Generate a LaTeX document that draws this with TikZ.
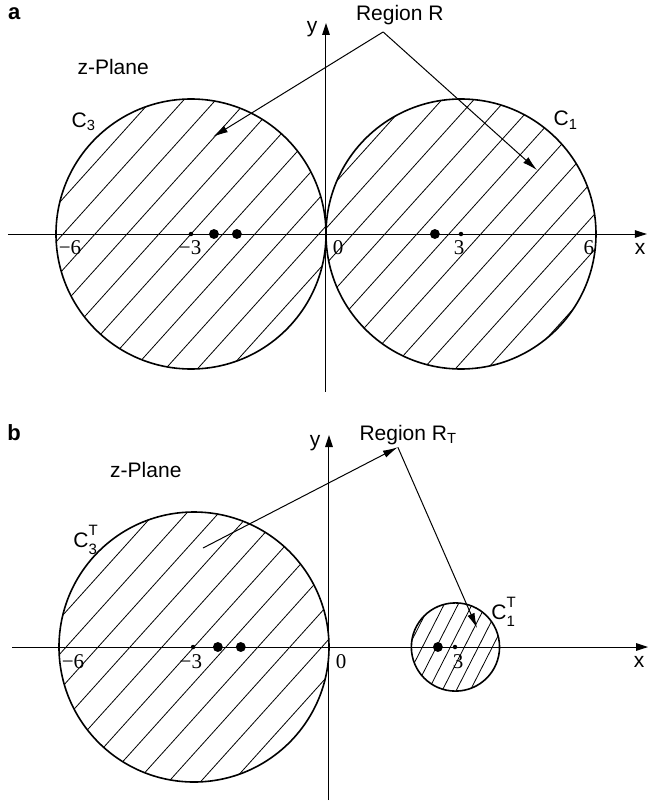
\documentclass[tikz,border=0pt]{standalone}
\usepackage{amsmath}
\usepackage{fontspec}
\setmainfont{Liberation Sans}
\newfontfamily\numfont{Liberation Serif}
\usetikzlibrary{arrows.meta}

\begin{document}
\begin{tikzpicture}[x=22.5pt, y=22.5pt,
  rim/.style={line width=0.8pt},
  axis/.style={line width=0.5pt, -{Triangle[length=6pt,width=3.8pt]}},
  hatch/.style={line width=0.4pt},
  pointer/.style={line width=0.5pt, -{Latex[length=7.5pt,width=3.8pt]}},
  lbl/.style={font=\fontsize{10.5}{12}\selectfont, inner sep=0pt},
  num/.style={font=\numfont\fontsize{10.5}{12}\selectfont, inner sep=0pt},
  tag/.style={font=\bfseries\fontsize{11}{12}\selectfont, inner sep=0pt}
]
\useasboundingbox (-7.2444,5.2) rectangle (7.1556,-12.7778);

% panel a
\node[tag] (tagA) at (-6.93,4.89) {a};
\draw[axis] (-7.07,0) -- (7.13,0);
\draw[axis] (0,-3.51) -- (0,4.69);
\node[lbl] (xA) at (6.98,-0.33) {x};
\node[lbl] (yA) at (-0.31,4.56) {y};

\begin{scope}
  \clip (-3,0) circle (3);
  \foreach \k in {-6,...,6}
    \draw[hatch, shift={(-3,0)}, rotate=48] (-3.3,\k*0.528) -- (3.3,\k*0.528);
\end{scope}
\begin{scope}
  \clip (3,0) circle (3);
  \foreach \k in {-6,...,6}
    \draw[hatch, shift={(3,0)}, rotate=48] (-3.3,\k*0.528+0.2) -- (3.3,\k*0.528+0.2);
\end{scope}
\draw[rim] (-3,0) circle (3);
\draw[rim] (3,0) circle (3);

\foreach \p in {-2.49,-1.98,2.42} \fill (\p,0) circle (0.11);
\foreach \p in {-3,3} \fill (\p,0) circle (0.05);

\node[num] (mA6) at (-5.69,-0.31) {−6};
\node[num] (mA3) at (-3.02,-0.31) {−3};
\node[num] (oA) at (0.27,-0.31) {0};
\node[num] (pA3) at (2.96,-0.31) {3};
\node[num] (pA6) at (5.84,-0.31) {6};

\node[lbl] (planeA) at (-4.73,3.71) {z-Plane};
\node[lbl] (cA3) at (-5.38,2.49) {C$_{\text{3}}$};
\node[lbl] (cA1) at (5.33,2.53) {C$_{\text{1}}$};

\node[lbl] (regA) at (1.64,4.87) {Region R};
\coordinate (apexA) at (1.27,4.49);
\coordinate (tipA3) at (-2.51,2.16);
\coordinate (tipA1) at (4.69,1.42);
\draw[pointer] (apexA) -- (tipA3);
\draw[pointer] (apexA) -- (tipA1);

% panel b
\begin{scope}[shift={(0.0667,-9.178)}]
\node[tag] (tagB) at (-7.0,4.76) {b};
\draw[axis] (-7.04,0) -- (7.09,0);
\draw[axis] (0,-3.4) -- (0,4.71);
\node[lbl] (xB) at (6.89,-0.33) {x};
\node[lbl] (yB) at (-0.31,4.53) {y};

\begin{scope}
  \clip (-3,0) circle (3);
  \foreach \k in {-6,...,6}
    \draw[hatch, shift={(-3,0)}, rotate=48] (-3.3,\k*0.528) -- (3.3,\k*0.528);
\end{scope}
\begin{scope}
  \clip (2.81,0) circle (0.98);
  \foreach \k in {-4,...,4}
    \draw[hatch, shift={(2.81,0)}, rotate=63] (-1.1,\k*0.277+0.1) -- (1.1,\k*0.277+0.1);
\end{scope}
\draw[rim] (-3,0) circle (3);
\draw[rim] (2.81,0) circle (0.98);

\foreach \p in {-2.47,-1.96,2.42} \fill (\p,0) circle (0.11);
\foreach \p in {-3.02,2.8} \fill (\p,0) circle (0.05);

\node[num] (mB6) at (-5.69,-0.33) {−6};
\node[num] (mB3) at (-3.07,-0.33) {−3};
\node[num] (oB) at (0.27,-0.33) {0};
\node[num] (pB3) at (2.87,-0.33) {3};

\node[lbl] (planeB) at (-4.07,3.93) {z-Plane};
\node[lbl] (cB3) at (-5.42,2.38)
  {C\rlap{\raisebox{1.1ex}{\fontsize{7.5}{8}\selectfont T}}\raisebox{-0.6ex}{\fontsize{7.5}{8}\selectfont 3}};
\node[lbl] (cB1) at (3.87,0.78)
  {C\rlap{\raisebox{1.1ex}{\fontsize{7.5}{8}\selectfont T}}\raisebox{-0.6ex}{\fontsize{7.5}{8}\selectfont 1}};

\node[lbl, anchor=west] (regB) at (0.67,4.71) {Region R$_{\text{T}}$};
\coordinate (startB) at (-2.8,2.2);
\coordinate (apexB) at (1.53,4.44);
\coordinate (tipB1) at (3.29,0.42);
\draw[pointer] (startB) -- (apexB);
\draw[pointer] (apexB) -- (tipB1);
\end{scope}
\end{tikzpicture}
\end{document}
